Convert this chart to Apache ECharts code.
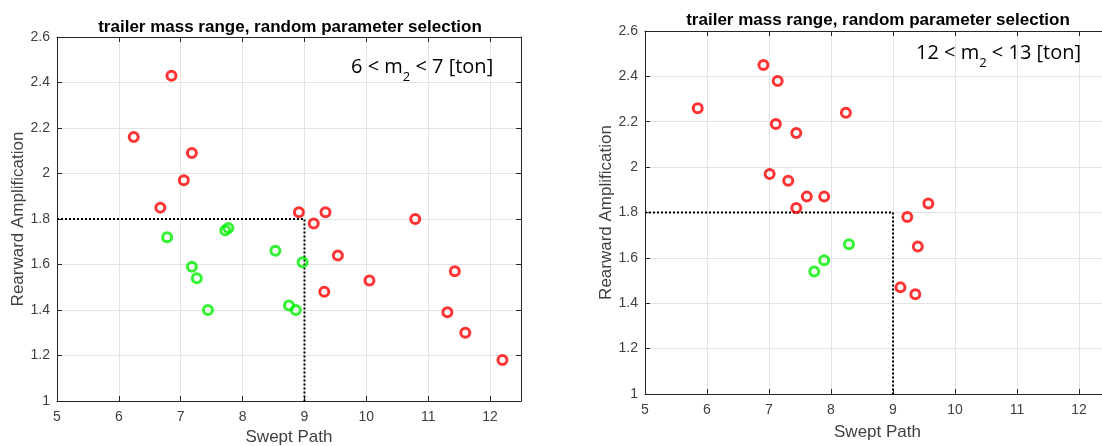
<!DOCTYPE html>
<html lang="en">
<head>
    <meta charset="UTF-8">
    <title>Swept path vs rearward amplification</title>
    <script src="https://cdn.jsdelivr.net/npm/echarts@6/dist/echarts.min.js"></script>
    <style>
        html, body { margin: 0; padding: 0; background: #fff; }
        #chart { width: 1102px; height: 446px; }
    </style>
</head>
<body>
<div id="chart"></div>
<script type="text/javascript">
    // 6 < m2 < 7 ton
    var leftFail = [
        [6.85, 2.43], [6.24, 2.16], [7.18, 2.09], [7.05, 1.97], [6.67, 1.85],
        [8.91, 1.83], [9.34, 1.83], [9.15, 1.78], [10.79, 1.80], [9.54, 1.64],
        [9.32, 1.48], [10.05, 1.53], [11.43, 1.57], [11.31, 1.39], [11.60, 1.30],
        [12.20, 1.18]
    ];
    var leftPass = [
        [6.78, 1.72], [7.72, 1.75], [7.77, 1.76], [7.18, 1.59], [7.26, 1.54],
        [7.44, 1.40], [8.53, 1.66], [8.97, 1.61], [8.75, 1.42], [8.86, 1.40]
    ];
    // 12 < m2 < 13 ton
    var rightFail = [
        [6.91, 2.45], [7.14, 2.38], [5.85, 2.26], [8.24, 2.24], [7.11, 2.19],
        [7.44, 2.15], [7.01, 1.97], [7.31, 1.94], [7.61, 1.87], [7.89, 1.87],
        [7.44, 1.82], [9.57, 1.84], [9.23, 1.78], [9.40, 1.65], [9.12, 1.47],
        [9.36, 1.44]
    ];
    var rightPass = [
        [8.29, 1.66], [7.89, 1.59], [7.73, 1.54]
    ];
    // limit box: swept path 9, rearward amplification 1.8
    var limitLine = [[5, 1.8], [9, 1.8], [9, 1]];

    var chartTitle = 'trailer mass range, random parameter selection';
    var xName = 'Swept Path';
    var yName = 'Rearward Amplification';
    var leftLabel = '6 < m{sub|2} < 7 [ton]';
    var rightLabel = '12 < m{sub|2} < 13 [ton]';

    var font = '"Liberation Sans", Arial, sans-serif';
    var axisColor = '#262626';
    var labelColor = '#404040';

    function xAxes(gi, nameGap) {
        return [{
            gridIndex: gi, type: 'value', min: 5, max: 12.5, interval: 1,
            name: xName, nameLocation: 'middle', nameGap: nameGap,
            nameTextStyle: { fontFamily: font, fontSize: 17, color: labelColor },
            axisLine: { show: true, lineStyle: { color: axisColor, width: 1 } },
            axisTick: { show: true, inside: true, length: 5, lineStyle: { color: axisColor } },
            axisLabel: { fontFamily: font, fontSize: 14, color: labelColor, margin: 9,
                formatter: function (v) { return v === 12.5 ? '' : v; } },
            splitLine: { show: true, lineStyle: { color: '#e3e3e3', width: 1 } }
        }, {
            gridIndex: gi, type: 'value', min: 5, max: 12.5, interval: 1, position: 'top',
            axisLine: { show: true, lineStyle: { color: axisColor, width: 1 } },
            axisTick: { show: true, inside: true, length: 5, lineStyle: { color: axisColor } },
            axisLabel: { show: false }, splitLine: { show: false }
        }];
    }

    function yAxes(gi, nameGap) {
        return [{
            gridIndex: gi, type: 'value', min: 1, max: 2.6, interval: 0.2,
            name: yName, nameLocation: 'middle', nameGap: nameGap,
            nameTextStyle: { fontFamily: font, fontSize: 17, color: labelColor },
            axisLine: { show: true, lineStyle: { color: axisColor, width: 1 } },
            axisTick: { show: true, inside: true, length: 5, lineStyle: { color: axisColor } },
            axisLabel: { fontFamily: font, fontSize: 14, color: labelColor, margin: 7,
                formatter: function (v) { return Math.round(v * 10) / 10; } },
            splitLine: { show: true, lineStyle: { color: '#e3e3e3', width: 1 } }
        }, {
            gridIndex: gi, type: 'value', min: 1, max: 2.6, interval: 0.2, position: 'right',
            axisLine: { show: true, lineStyle: { color: axisColor, width: 1 } },
            axisTick: { show: true, inside: true, length: 5, lineStyle: { color: axisColor } },
            axisLabel: { show: false }, splitLine: { show: false }
        }];
    }

    function dots(data, color, xi, yi) {
        return {
            type: 'scatter', xAxisIndex: xi, yAxisIndex: yi, data: data,
            symbol: 'circle', symbolSize: 9, z: 5,
            itemStyle: { color: 'transparent', borderColor: color, borderWidth: 3 }
        };
    }

    function limit(xi, yi) {
        return {
            type: 'line', xAxisIndex: xi, yAxisIndex: yi, data: limitLine,
            symbol: 'none', z: 4,
            lineStyle: { color: '#000', width: 2, type: [2, 2] }
        };
    }

    var subRich = {
        sub: { fontFamily: '"Open Sans", sans-serif', fontSize: 13, color: '#000',
            verticalAlign: 'bottom', padding: [0, 0, -7, 0] }
    };

    var chartDom = document.getElementById('chart');
    var myChart = echarts.init(chartDom);
    var option = {
        animation: false,
        backgroundColor: '#fff',
        title: [{
            text: chartTitle, left: 285, top: 14, textAlign: 'center',
            textStyle: { fontFamily: font, fontSize: 17, fontWeight: 'bold', color: '#000' }
        }, {
            text: chartTitle, left: 873, top: 7, textAlign: 'center',
            textStyle: { fontFamily: font, fontSize: 17, fontWeight: 'bold', color: '#000' }
        }, {
            text: leftLabel, left: 346, top: 52,
            textStyle: { fontFamily: '"Open Sans", sans-serif', fontSize: 20, fontWeight: 'normal', color: '#000', rich: subRich }
        }, {
            text: rightLabel, left: 911, top: 38,
            textStyle: { fontFamily: '"Open Sans", sans-serif', fontSize: 20, fontWeight: 'normal', color: '#000', rich: subRich }
        }],
        grid: [
            { left: 57, top: 37, width: 464, height: 364, show: false, outerBoundsMode: 'none' },
            { left: 645, top: 31, width: 465, height: 363, show: false, outerBoundsMode: 'none' }
        ],
        xAxis: xAxes(0, 28).concat(xAxes(1, 30)),
        yAxis: yAxes(0, 30).concat(yAxes(1, 30)),
        series: [
            limit(0, 0),
            dots(leftFail, '#ff0000', 0, 0),
            dots(leftPass, '#00f000', 0, 0),
            limit(2, 2),
            dots(rightFail, '#ff0000', 2, 2),
            dots(rightPass, '#00f000', 2, 2)
        ]
    };

    myChart.setOption(option);
</script>
</body>
</html>
